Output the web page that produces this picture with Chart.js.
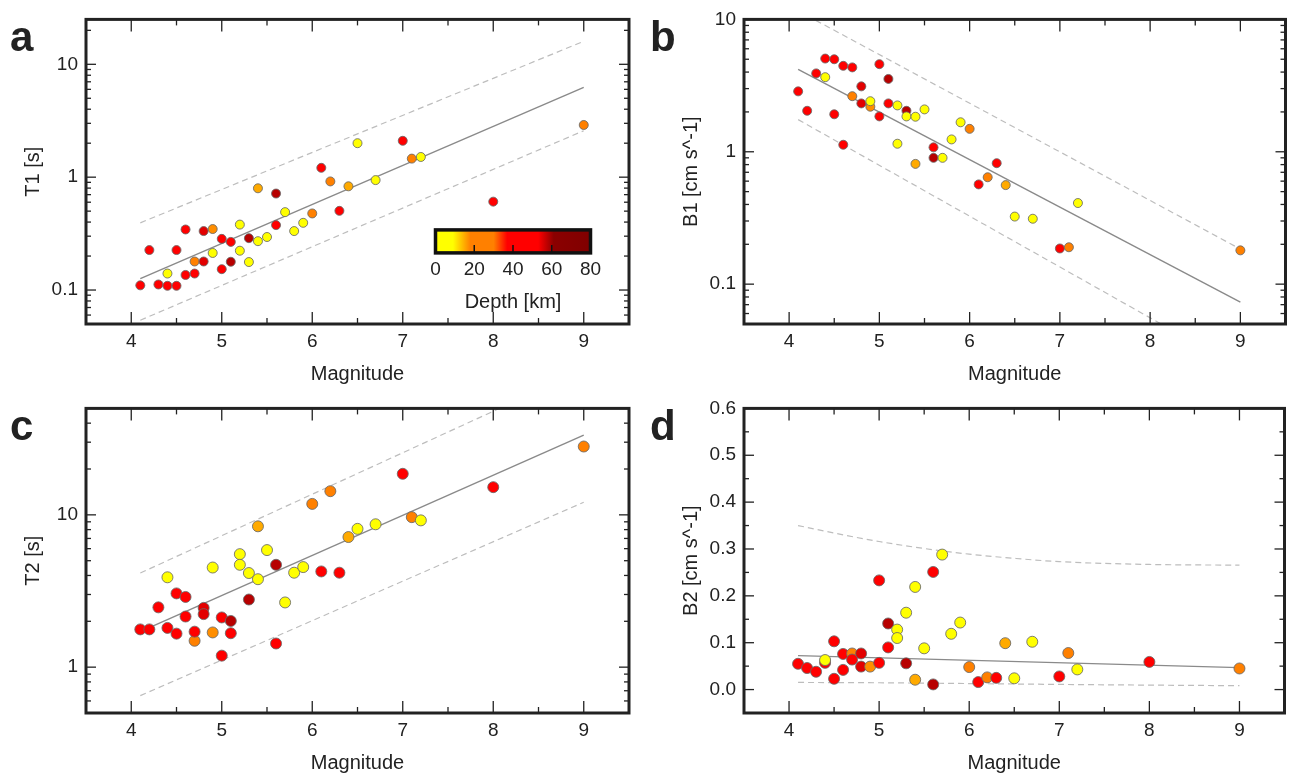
<!DOCTYPE html>
<html><head><meta charset="utf-8">
<script src="https://cdn.jsdelivr.net/npm/chart.js@4/dist/chart.umd.min.js"></script>
<style>
html,body{margin:0;padding:0;background:#fff;}
body{width:1291px;height:778px;position:relative;overflow:hidden;}
canvas{position:absolute;}
</style></head><body>
<canvas id="pa" width="645" height="389" style="left:0;top:0"></canvas>
<canvas id="pb" width="646" height="389" style="left:645px;top:0"></canvas>
<canvas id="pc" width="645" height="389" style="left:0;top:389px"></canvas>
<canvas id="pd" width="646" height="389" style="left:645px;top:389px"></canvas>
<script>
// ---------------- DATA ----------------
const magnitude = [4.1,4.2,4.3,4.4,4.4,4.5,4.5,4.6,4.6,4.7,4.7,4.8,4.8,4.9,4.9,5.0,5.0,5.1,5.1,5.2,5.2,5.3,5.3,5.4,5.4,5.5,5.6,5.6,5.7,5.8,5.9,6.0,6.1,6.2,6.3,6.4,6.5,6.7,7.0,7.1,7.2,8.0,9.0];
const depthKm   = [45,45,45,45,3,45,45,45,45,24,45,55,55,17,3,45,45,45,58,3,3,58,3,15,3,3,58,45,3,3,3,24,52,24,45,15,3,3,45,24,3,45,24];
const t1 = [0.110,0.226,0.112,0.109,0.140,0.226,0.109,0.344,0.136,0.179,0.140,0.333,0.179,0.347,0.213,0.284,0.153,0.267,0.178,0.380,0.223,0.288,0.177,0.797,0.271,0.295,0.716,0.376,0.490,0.333,0.394,0.477,1.21,0.917,0.503,0.830,2.0,0.942,2.10,1.46,1.51,0.607,2.90];
const b1 = [2.86,2.04,3.91,5.06,3.66,5.00,1.92,4.46,1.13,2.63,4.34,3.12,2.32,2.19,2.41,4.59,1.85,2.32,3.55,2.24,1.15,2.04,1.85,0.81,1.84,2.09,0.90,1.08,0.90,1.24,1.67,1.49,0.567,0.642,0.82,0.560,0.324,0.312,0.186,0.190,0.410,null,0.180];
const t2 = [1.77,1.77,2.47,1.81,3.89,3.05,1.66,2.89,2.15,1.49,1.71,2.45,2.23,1.69,4.51,2.12,1.19,1.67,2.01,5.52,4.70,2.78,4.15,8.41,3.78,5.87,4.70,1.43,2.66,4.17,4.54,11.8,4.25,14.3,4.17,7.15,8.09,8.67,18.6,9.66,9.20,15.2,28.1];
const b2 = [0.055,0.046,0.038,0.057,0.063,0.103,0.023,0.076,0.042,0.077,0.064,0.077,0.049,0.049,null,0.233,0.057,0.090,0.141,0.128,0.110,0.056,0.164,0.021,0.219,0.088,0.011,0.251,0.288,0.119,0.143,0.048,0.016,0.026,0.025,0.099,0.024,0.102,0.028,0.078,0.043,0.059,0.045];

// regression line (solid) and bounds (dashed)
const t1Fit   = [[4.1,0.126],[9,6.25]];
const t1Upper = [[4.1,0.394],[9,16.0]];
const t1Lower = [[4.1,0.054],[9,2.58]];
const b1Fit   = [[4.1,4.19],[9,0.073]];
const b1Upper = [[4.1,11.6],[9,0.184]];
const b1Lower = [[4.1,1.75],[9,0.023]];
const t2Fit   = [[4.1,1.71],[9,33.4]];
const t2Upper = [[4.1,4.15],[9,89.6]];
const t2Lower = [[4.1,0.65],[9,12.1]];
const b2Fit   = [[4.1,0.0724],[9,0.0469]];
const b2Upper = [[4.1,0.350],[4.5,0.334],[5,0.316],[5.5,0.301],[6,0.289],[6.5,0.280],[7,0.273],[8,0.267],[9,0.2655]];
const b2Lower = [[4.1,0.0152],[5,0.0145],[6,0.0128],[7,0.0110],[8,0.0095],[9,0.0083]];

// axis ticks
const xTickValues = [4,5,6,7,8,9];
const xMinorValues = [4.5,5.5,6.5,7.5,8.5];
const t1TickValues = [0.1,1,10];
const b1TickValues = [0.1,1,10];
const t2TickValues = [1,10];
const b2TickValues = [0,0.1,0.2,0.3,0.4,0.5,0.6];
const b2MinorValues = [0.05,0.15,0.25,0.35,0.45,0.55];
const depthTicks = [0,20,40,60,80];
const depthStops = [[0,'#ffff00'],[9,'#ffff00'],[18,'#ff8000'],[30,'#ff8000'],[37,'#ff0000'],[53,'#ff0000'],[61,'#8b0000'],[80,'#800000']];

// ---------------- HELPERS ----------------
const FONT = '"Liberation Sans", Arial, Helvetica, sans-serif';
const INK = '#222';
function hex(c){return [parseInt(c.slice(1,3),16),parseInt(c.slice(3,5),16),parseInt(c.slice(5,7),16)];}
function depthColor(d){
  for(let i=0;i<depthStops.length-1;i++){
    const [d0,c0]=depthStops[i],[d1,c1]=depthStops[i+1];
    if(d<=d1){const f=(d-d0)/(d1-d0);const a=hex(c0),b=hex(c1);
      return 'rgb('+a.map((v,k)=>Math.round(v+(b[k]-v)*f)).join(',')+')';}
  }
  return depthStops[depthStops.length-1][1];
}
function logMinor(min,max){const out=[];for(let e=-3;e<=3;e++)for(let k=2;k<=9;k++){const v=k*Math.pow(10,e);if(v>min*1.001&&v<max*0.999)out.push(v);}return out;}

function framePlugin(p){
  return {id:'frame'+p.id, afterDraw(chart){
    const {ctx, chartArea:a, scales:{x,y}} = chart;
    ctx.save();
    ctx.strokeStyle=INK; ctx.lineWidth=1.3;
    const seg=(x0,y0,x1,y1)=>{ctx.beginPath();ctx.moveTo(x0,y0);ctx.lineTo(x1,y1);ctx.stroke();};
    xTickValues.forEach(v=>{const px=x.getPixelForValue(v);seg(px,a.bottom,px,a.bottom-12);seg(px,a.top,px,a.top+12);});
    xMinorValues.forEach(v=>{const px=x.getPixelForValue(v);seg(px,a.bottom,px,a.bottom-6);seg(px,a.top,px,a.top+6);});
    p.yMajor.forEach(v=>{const py=y.getPixelForValue(v);seg(a.left,py,a.left+10,py);seg(a.right,py,a.right-10,py);});
    p.yMinor.forEach(v=>{const py=y.getPixelForValue(v);seg(a.left,py,a.left+5,py);seg(a.right,py,a.right-5,py);});
    ctx.lineWidth=3;
    ctx.strokeRect(a.left,a.top,a.right-a.left,a.bottom-a.top);
    // panel letter
    ctx.fillStyle=INK; ctx.font='bold 42px '+FONT; ctx.textBaseline='alphabetic'; ctx.textAlign='left';
    ctx.fillText(p.letter,p.letterX,p.letterY);
    if(p.colorbar){
      const bx=a.left+349.5, by=a.top+210.5, bw=155, bh=23;
      const g=ctx.createLinearGradient(bx,0,bx+bw,0);
      depthStops.forEach(([d,c])=>g.addColorStop(d/80,c));
      ctx.fillStyle=g; ctx.fillRect(bx,by,bw,bh);
      ctx.lineWidth=1.5; ctx.strokeStyle='#111';
      depthTicks.slice(1,-1).forEach(d=>{const px=bx+bw*d/80;seg(px,by+bh,px,by+bh-8);});
      ctx.lineWidth=3.5; ctx.strokeStyle='#111';
      ctx.strokeRect(bx,by,bw,bh);
      ctx.fillStyle=INK; ctx.font='19px '+FONT; ctx.textAlign='center'; ctx.textBaseline='middle';
      depthTicks.forEach(d=>ctx.fillText(String(d),bx+bw*d/80,by+bh+17));
      ctx.font='20px '+FONT;
      ctx.fillText('Depth [km]',bx+bw/2,by+bh+50);
    }
    ctx.restore();
  }};
}

function lineDs(pts,dashed,smooth){
  return {data:pts.map(([x,y])=>({x,y})),showLine:true,pointRadius:0,borderColor:dashed?'#bdbdbd':'#8a8a8a',
    borderWidth:dashed?1.2:1.4,borderDash:dashed?[6,4]:[],fill:false,order:2,
    cubicInterpolationMode:smooth?'monotone':'default',tension:0};
}

function makePanel(p){
  const colors = depthKm.map(depthColor);
  const pts = magnitude.map((m,i)=>({x:m,y:p.values[i]}));
  new Chart(document.getElementById(p.id),{
    type:'scatter',
    data:{datasets:[
      {data:pts,backgroundColor:colors,borderColor:'rgba(105,105,105,0.85)',borderWidth:1,pointRadius:p.radius,order:0},
      lineDs(p.fit,false,false),lineDs(p.upper,true,p.smooth),lineDs(p.lower,true,p.smooth)
    ]},
    options:{
      responsive:false,animation:false,devicePixelRatio:1,
      events:[],
      layout:{padding:{top:14,right:p.padRight,left:0,bottom:0}},
      plugins:{legend:{display:false},tooltip:{enabled:false}},
      scales:{
        x:{type:'linear',min:3.5,max:9.5,
          grid:{display:false,drawTicks:false},border:{display:false},
          afterBuildTicks:s=>{s.ticks=xTickValues.map(v=>({value:v}));},
          afterFit:s=>{s.height=65;},
          ticks:{autoSkip:false,maxRotation:0,padding:6,color:INK,font:{family:FONT,size:19},callback:v=>String(v)},
          title:{display:true,text:'Magnitude',color:INK,font:{family:FONT,size:20},padding:{top:0,bottom:3}}
        },
        y:{type:p.yType,min:p.yMin,max:p.yMax,
          grid:{display:false,drawTicks:false},border:{display:false},
          afterBuildTicks:s=>{s.ticks=p.yMajor.map(v=>({value:v}));},
          afterFit:s=>{s.width=p.axisWidth;},
          ticks:{autoSkip:false,padding:8,color:INK,font:{family:FONT,size:19},callback:p.fmt},
          title:{display:true,text:p.yTitle,color:INK,font:{family:FONT,size:20},padding:{top:p.titlePad,bottom:0}}
        }
      }
    },
    plugins:[framePlugin(p)]
  });
}

makePanel({id:'pa',values:t1,fit:t1Fit,upper:t1Upper,lower:t1Lower,yType:'logarithmic',yMin:0.05,yMax:25,
  yMajor:t1TickValues,yMinor:logMinor(0.05,25),yTitle:'T1 [s]',fmt:v=>String(v),radius:4.5,
  axisWidth:86,padRight:16,titlePad:21,letter:'a',letterX:10,letterY:51,colorbar:true});
makePanel({id:'pb',values:b1,fit:b1Fit,upper:b1Upper,lower:b1Lower,yType:'logarithmic',yMin:0.05,yMax:10,
  yMajor:b1TickValues,yMinor:logMinor(0.05,10),yTitle:'B1 [cm s^-1]',fmt:v=>String(v),radius:4.5,
  axisWidth:99,padRight:4,titlePad:34,letter:'b',letterX:5,letterY:51});
makePanel({id:'pc',values:t2,fit:t2Fit,upper:t2Upper,lower:t2Lower,yType:'logarithmic',yMin:0.5,yMax:50,
  yMajor:t2TickValues,yMinor:logMinor(0.5,50),yTitle:'T2 [s]',fmt:v=>String(v),radius:5.5,
  axisWidth:86,padRight:16,titlePad:21,letter:'c',letterX:10,letterY:51});
makePanel({id:'pd',values:b2,fit:b2Fit,upper:b2Upper,lower:b2Lower,smooth:true,yType:'linear',yMin:-0.05,yMax:0.6,
  yMajor:b2TickValues,yMinor:b2MinorValues,yTitle:'B2 [cm s^-1]',fmt:v=>Number(v).toFixed(1),radius:5.5,
  axisWidth:99,padRight:4,titlePad:34,letter:'d',letterX:5,letterY:51});
</script>
</body></html>
